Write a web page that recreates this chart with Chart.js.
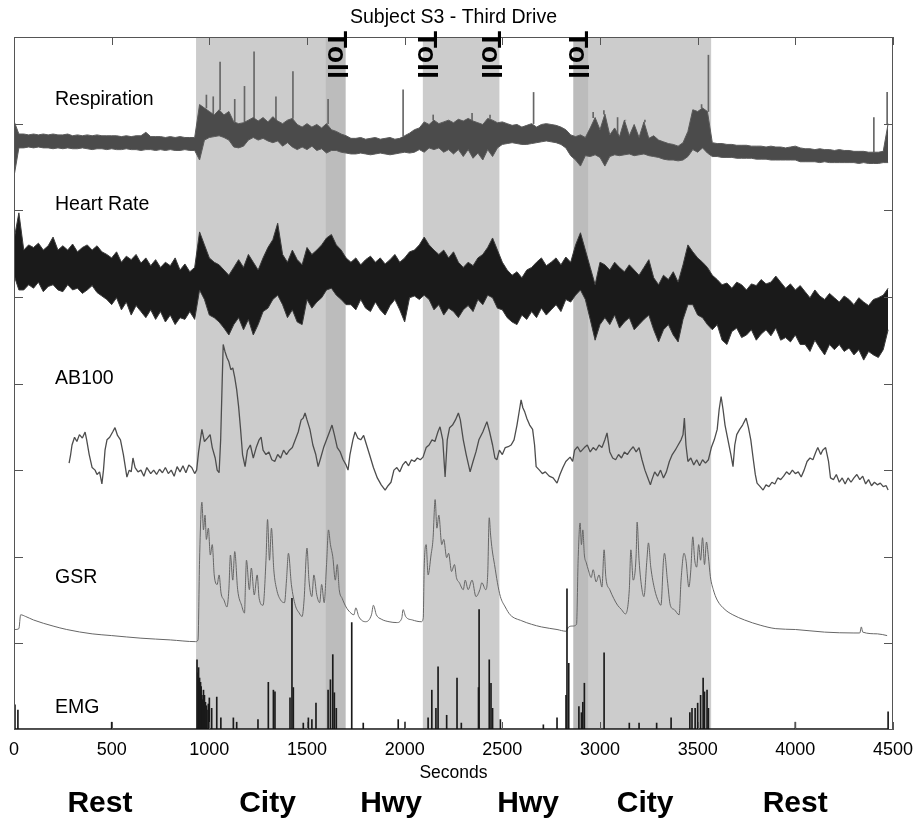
<!DOCTYPE html>
<html>
<head>
<meta charset="utf-8">
<title>Subject S3 - Third Drive</title>
<script src="https://cdn.jsdelivr.net/npm/chart.js@4.4.0/dist/chart.umd.min.js"></script>
<style>
body { margin: 0; background: #fff; }
</style>
</head>
<body>
<canvas id="drive" width="920" height="820"></canvas>
<script>
//采样间隔（秒），呼吸和心率的上下包络按此间隔取值
var sampleStep = 25;

//路段划分（秒）
var citySpans = [[932, 1697], [2093, 2485], [2864, 3569]];
var tollSpans = [[1596, 1697], [2864, 2939]];
var tollMarks = [1649, 2109, 2437, 2883];
var phaseNames = ['Rest', 'City', 'Hwy', 'Hwy', 'City', 'Rest'];
var phaseCenters = [440, 1298, 1930, 2632, 3231, 3999];

//坐标刻度
var secondTicks = [0, 500, 1000, 1500, 2000, 2500, 3000, 3500, 4000, 4500];
var levelTicks = [100, 200, 300, 400, 500, 600, 700];

//呼吸信号上包络
var respHi = [
    703, 688, 688, 687, 688, 687, 688, 687, 688, 687,
    687, 688, 686, 687, 686, 687, 686, 687, 686, 686,
    686, 686, 685, 686, 685, 686, 686, 690, 685, 685,
    685, 684, 685, 684, 685, 684, 684, 684, 722, 718,
    714, 710, 716, 710, 714, 702, 700, 701, 704, 707,
    703, 707, 702, 708, 703, 700, 704, 706, 699, 696,
    700, 696, 699, 695, 700, 693, 691, 688, 686, 683,
    683, 684, 682, 683, 684, 682, 683, 684, 682, 683,
    686, 689, 693, 695, 702, 699, 704, 700, 702, 704,
    701, 705, 703, 706, 703, 701, 699, 706, 704, 701,
    702, 700, 698, 699, 696, 698, 700, 696, 699, 700,
    699, 698, 696, 693, 687, 685, 687, 684, 695, 707,
    693, 711, 687, 695, 685, 704, 686, 699, 684, 702,
    683, 686, 681, 679, 677, 676, 674, 678, 691, 716,
    714, 718, 714, 678, 677, 677, 676, 676, 675, 675,
    675, 674, 674, 674, 673, 674, 673, 673, 672, 673,
    674, 672, 671, 671, 670, 671, 670, 670, 669, 670,
    669, 669, 668, 668, 668, 667, 667, 667, 668, 700
];

//呼吸信号下包络
var respLo = [
    639, 672, 672, 673, 672, 673, 672, 672, 671, 672,
    671, 672, 671, 671, 672, 671, 670, 671, 671, 670,
    671, 670, 670, 671, 670, 670, 669, 670, 670, 669,
    670, 669, 670, 669, 669, 670, 669, 669, 658, 681,
    684, 685, 686, 684, 681, 673, 672, 674, 681, 684,
    681, 683, 680, 678, 680, 674, 678, 673, 670, 673,
    670, 674, 669, 671, 666, 669, 669, 667, 666, 665,
    665, 666, 665, 664, 665, 666, 665, 664, 665, 666,
    667, 666, 667, 670, 667, 672, 670, 672, 667, 670,
    665, 670, 662, 670, 660, 666, 658, 670, 662, 672,
    676, 677, 678, 677, 676, 676, 677, 678, 679, 680,
    679, 678, 676, 672, 663, 658, 651, 663, 662, 664,
    661, 651, 662, 664, 663, 664, 665, 663, 664, 665,
    663, 662, 661, 659, 658, 658, 657, 658, 662, 670,
    667, 672, 666, 662, 662, 661, 661, 661, 660, 660,
    660, 660, 659, 659, 659, 658, 658, 658, 658, 658,
    658, 656, 656, 656, 656, 655, 656, 655, 655, 655,
    655, 655, 655, 654, 655, 654, 654, 654, 655, 655
];

//呼吸尖峰 [秒, 峰值]
var respSpikes = [
    [985, 733], [1020, 731], [1055, 771], [1130, 728], [1180, 743], [1229, 783], [1341, 731],
    [1428, 760], [1608, 728], [1992, 739], [2146, 710], [2345, 712], [2437, 710], [2660, 736],
    [2965, 713], [3020, 715], [3090, 707], [3130, 704], [3230, 704], [3520, 722], [3555, 779],
    [4402, 707], [4470, 736]
];

//心率上包络
var hrHi = [
    566, 597, 554, 560, 557, 562, 554, 559, 569, 554,
    559, 554, 561, 552, 557, 560, 554, 559, 552, 549,
    545, 552, 540, 547, 543, 549, 539, 545, 536, 543,
    534, 540, 536, 545, 531, 538, 529, 534, 575, 560,
    545, 540, 537, 531, 525, 534, 543, 534, 549, 540,
    531, 545, 557, 566, 585, 549, 540, 554, 543, 537,
    557, 549, 554, 560, 568, 572, 560, 554, 545, 540,
    545, 537, 543, 547, 540, 545, 538, 543, 549, 540,
    545, 552, 554, 560, 569, 560, 554, 549, 554, 545,
    552, 540, 534, 540, 536, 545, 549, 557, 568, 554,
    540, 531, 525, 529, 522, 531, 534, 540, 545, 536,
    540, 545, 537, 546, 540, 560, 574, 554, 534, 514,
    540, 537, 531, 540, 534, 529, 537, 531, 525, 534,
    543, 522, 514, 525, 520, 529, 517, 537, 560, 552,
    545, 540, 534, 525, 520, 514, 516, 510, 517, 514,
    508, 515, 513, 520, 515, 517, 524, 517, 510, 515,
    508, 513, 506, 499, 508, 501, 497, 504, 499, 494,
    501, 497, 491, 499, 494, 490, 497, 499, 502, 510
];

//心率下包络
var hrLo = [
    525, 508, 508, 514, 510, 517, 506, 512, 514, 508,
    506, 514, 508, 510, 504, 508, 513, 505, 501, 497,
    491, 499, 485, 494, 479, 490, 483, 476, 485, 474,
    483, 471, 479, 468, 476, 474, 483, 474, 508, 497,
    479, 476, 471, 464, 456, 468, 476, 462, 474, 456,
    468, 483, 487, 497, 502, 491, 476, 485, 471, 468,
    497, 487, 494, 499, 508, 510, 502, 497, 491, 491,
    485, 497, 487, 483, 494, 485, 479, 490, 497, 485,
    471, 499, 501, 497, 502, 497, 485, 491, 479, 487,
    483, 476, 485, 490, 483, 497, 491, 502, 499, 487,
    485, 476, 471, 468, 479, 474, 483, 476, 487, 479,
    485, 491, 483, 497, 494, 502, 508, 497, 474, 450,
    468, 476, 468, 479, 464, 471, 476, 462, 468, 474,
    479, 462, 448, 462, 468, 456, 448, 474, 491, 491,
    479, 476, 468, 462, 468, 450, 445, 460, 464, 453,
    456, 462, 450, 457, 462, 455, 464, 450, 453, 448,
    456, 445, 445, 437, 450, 441, 433, 445, 439, 445,
    437, 441, 433, 439, 427, 437, 433, 430, 439, 462
];

//AB100 [秒, 值]
var ab100Points = [
    [282, 308], [290, 318], [297, 329], [310, 338], [322, 333], [335, 341], [350, 337], [364, 344], [372, 335], [385, 318],
    [400, 303], [415, 300], [425, 295], [438, 298], [450, 284], [458, 300], [466, 323], [476, 335], [490, 338], [505, 344],
    [517, 349], [530, 340], [545, 335], [560, 318], [578, 292], [590, 300], [600, 298], [609, 314], [620, 303], [635, 298],
    [650, 300], [665, 293], [680, 303], [700, 296], [715, 300], [730, 295], [745, 301], [760, 297], [775, 303], [790, 296],
    [805, 300], [820, 293], [835, 304], [850, 298], [865, 305], [880, 297], [895, 306], [910, 303], [925, 296], [935, 300],
    [945, 321], [962, 347], [975, 333], [990, 337], [1004, 341], [1015, 326], [1030, 314], [1040, 300], [1050, 297], [1058, 335],
    [1066, 404], [1071, 445], [1080, 437], [1090, 430], [1100, 425], [1110, 416], [1120, 418], [1130, 407], [1140, 393], [1150, 373],
    [1160, 347], [1170, 318], [1183, 304], [1195, 323], [1210, 329], [1225, 314], [1240, 326], [1255, 335], [1265, 338], [1275, 323],
    [1290, 318], [1305, 321], [1320, 312], [1335, 310], [1350, 318], [1365, 314], [1380, 323], [1395, 318], [1410, 323], [1425, 326],
    [1440, 335], [1455, 344], [1470, 358], [1480, 360], [1490, 366], [1500, 358], [1515, 347], [1530, 329], [1545, 318], [1557, 304],
    [1570, 314], [1585, 326], [1600, 335], [1615, 344], [1628, 352], [1640, 341], [1655, 326], [1670, 321], [1685, 312], [1700, 306],
    [1710, 300], [1720, 318], [1735, 335], [1746, 344], [1760, 337], [1775, 335], [1790, 340], [1805, 329], [1820, 318], [1840, 303],
    [1860, 291], [1880, 283], [1900, 277], [1915, 282], [1930, 286], [1945, 300], [1960, 303], [1975, 298], [1990, 306], [2005, 310],
    [2020, 305], [2035, 312], [2050, 310], [2065, 314], [2080, 312], [2094, 315], [2110, 326], [2125, 329], [2140, 335], [2155, 333],
    [2170, 344], [2181, 350], [2195, 335], [2207, 292], [2218, 335], [2230, 349], [2245, 352], [2260, 358], [2275, 366], [2285, 358],
    [2300, 335], [2315, 318], [2335, 298], [2350, 310], [2365, 321], [2380, 335], [2400, 344], [2421, 356], [2435, 344], [2450, 329],
    [2462, 314], [2472, 312], [2485, 323], [2500, 318], [2515, 326], [2530, 327], [2545, 329], [2560, 335], [2575, 352], [2588, 370],
    [2596, 381], [2605, 372], [2615, 367], [2625, 360], [2640, 352], [2655, 347], [2665, 329], [2673, 304], [2690, 300], [2705, 296],
    [2720, 298], [2740, 293], [2760, 291], [2780, 285], [2795, 295], [2810, 303], [2825, 310], [2847, 315], [2860, 310], [2870, 323],
    [2885, 327], [2900, 321], [2920, 326], [2935, 329], [2950, 321], [2965, 326], [2980, 323], [2995, 329], [3010, 326], [3025, 335],
    [3036, 343], [3050, 321], [3065, 314], [3080, 312], [3095, 318], [3110, 314], [3125, 321], [3140, 318], [3155, 323], [3170, 327],
    [3185, 321], [3200, 326], [3215, 312], [3230, 300], [3245, 291], [3258, 283], [3266, 289], [3280, 298], [3295, 293], [3310, 300],
    [3325, 291], [3340, 298], [3355, 310], [3370, 318], [3385, 323], [3400, 329], [3415, 335], [3425, 341], [3432, 360], [3440, 329],
    [3450, 310], [3465, 314], [3480, 306], [3495, 312], [3510, 305], [3525, 312], [3540, 308], [3555, 312], [3570, 326], [3585, 335],
    [3600, 347], [3610, 370], [3620, 385], [3630, 370], [3640, 352], [3655, 335], [3670, 318], [3681, 304], [3690, 329], [3700, 341],
    [3715, 347], [3730, 352], [3748, 360], [3760, 349], [3772, 335], [3785, 312], [3795, 295], [3804, 285], [3820, 281], [3835, 277],
    [3850, 283], [3865, 281], [3880, 286], [3895, 284], [3910, 291], [3925, 289], [3940, 293], [3955, 298], [3970, 295], [3985, 300],
    [4000, 296], [4015, 298], [4030, 292], [4045, 300], [4060, 310], [4075, 314], [4090, 312], [4105, 321], [4115, 326], [4130, 318],
    [4140, 323], [4155, 326], [4170, 310], [4180, 291], [4195, 289], [4210, 295], [4225, 286], [4240, 291], [4255, 284], [4270, 291],
    [4285, 286], [4300, 291], [4315, 295], [4330, 289], [4345, 293], [4360, 284], [4375, 289], [4390, 282], [4405, 286], [4420, 283],
    [4435, 285], [4450, 281], [4465, 282], [4475, 277]
];

//皮电 GSR [秒, 值]
var gsrPoints = [
    [5, 116], [25, 117], [34, 133], [60, 131], [100, 127], [200, 120], [270, 116], [400, 111], [500, 109], [650, 106],
    [800, 104], [930, 102], [942, 104], [950, 196], [958, 254], [962, 263], [970, 231], [978, 248], [985, 220], [995, 233],
    [1005, 202], [1015, 214], [1025, 179], [1040, 168], [1050, 179], [1060, 158], [1075, 150], [1090, 142], [1100, 162], [1108, 202],
    [1120, 173], [1130, 206], [1145, 162], [1165, 144], [1180, 135], [1185, 168], [1190, 196], [1205, 162], [1215, 187], [1230, 156],
    [1245, 179], [1255, 152], [1275, 144], [1290, 196], [1298, 243], [1308, 196], [1318, 233], [1330, 185], [1345, 162], [1365, 150],
    [1385, 147], [1395, 173], [1405, 204], [1420, 168], [1440, 144], [1460, 135], [1475, 131], [1485, 150], [1500, 210], [1510, 173],
    [1525, 154], [1535, 179], [1550, 156], [1565, 147], [1575, 168], [1588, 147], [1600, 191], [1610, 231], [1620, 214], [1632, 200],
    [1645, 173], [1655, 191], [1665, 162], [1680, 152], [1700, 142], [1720, 136], [1740, 133], [1750, 141], [1765, 131], [1800, 125],
    [1830, 133], [1840, 144], [1855, 133], [1880, 128], [1920, 125], [1960, 124], [1985, 129], [1992, 139], [2005, 131], [2040, 127],
    [2085, 125], [2095, 129], [2100, 188], [2110, 214], [2120, 179], [2135, 202], [2145, 220], [2156, 266], [2165, 233], [2175, 248],
    [2190, 214], [2200, 220], [2215, 199], [2225, 204], [2240, 183], [2255, 191], [2265, 176], [2280, 170], [2300, 162], [2310, 173],
    [2325, 162], [2345, 173], [2365, 154], [2385, 162], [2395, 170], [2415, 162], [2425, 179], [2433, 245], [2440, 225], [2448, 208],
    [2460, 191], [2475, 170], [2490, 154], [2515, 142], [2540, 133], [2600, 126], [2650, 122], [2700, 119], [2780, 116], [2826, 114],
    [2840, 119], [2860, 120], [2880, 122], [2888, 196], [2898, 239], [2905, 214], [2912, 231], [2920, 202], [2930, 193], [2940, 185],
    [2955, 176], [2965, 185], [2980, 171], [2995, 179], [3010, 165], [3021, 208], [3030, 176], [3050, 162], [3070, 152], [3090, 144],
    [3110, 139], [3130, 134], [3150, 162], [3158, 208], [3170, 173], [3185, 202], [3190, 240], [3200, 196], [3215, 162], [3225, 154],
    [3240, 196], [3248, 216], [3260, 188], [3280, 162], [3300, 148], [3312, 144], [3325, 196], [3330, 204], [3345, 173], [3360, 144],
    [3380, 139], [3405, 133], [3415, 173], [3430, 204], [3440, 196], [3455, 165], [3465, 185], [3475, 223], [3485, 196], [3495, 188],
    [3505, 214], [3515, 196], [3525, 222], [3535, 191], [3545, 217], [3555, 200], [3565, 177], [3580, 162], [3600, 150], [3640, 139],
    [3680, 133], [3740, 127], [3820, 121], [3900, 117], [4000, 116], [4150, 113], [4300, 112], [4330, 112], [4338, 119], [4345, 113],
    [4420, 111], [4470, 109]
];

//肌电 EMG 基线与尖峰 [秒, 峰值]
var emgFloor = 1;
var emgRange = [0, 4475];
var emgPeaks = [
    [5, 29], [20, 23], [500, 9], [937, 81], [942, 66], [945, 72], [948, 46], [950, 60], [955, 55], [958, 50],
    [962, 40], [965, 35], [970, 46], [975, 40], [980, 32], [985, 28], [988, 23], [995, 30], [1000, 37], [1012, 25],
    [1038, 38], [1059, 14], [1123, 14], [1140, 9], [1249, 12], [1302, 55], [1328, 46], [1336, 44], [1413, 37], [1423, 152],
    [1430, 49], [1481, 8], [1507, 14], [1525, 12], [1546, 31], [1608, 46], [1620, 58], [1632, 87], [1640, 43], [1650, 25],
    [1729, 124], [1788, 8], [1967, 12], [2002, 9], [2120, 14], [2139, 46], [2160, 25], [2171, 73], [2215, 17], [2268, 60],
    [2290, 8], [2378, 49], [2381, 139], [2433, 81], [2442, 54], [2450, 25], [2490, 12], [2710, 6], [2780, 14], [2826, 40],
    [2831, 163], [2840, 77], [2892, 27], [2905, 20], [2912, 32], [2920, 54], [3021, 89], [3150, 8], [3200, 8], [3290, 8],
    [3364, 14], [3460, 20], [3471, 25], [3487, 25], [3500, 31], [3515, 40], [3528, 60], [3535, 44], [3548, 46], [3555, 25],
    [4000, 9], [4475, 21]
];

//等间隔序列转为点
function series(values) {
    return values.map(function(v, i) {
        return {x: i * sampleStep, y: v};
    });
}

//[秒, 值] 转为点
function points(list) {
    return list.map(function(p) {
        return {x: p[0], y: p[1]};
    });
}

//尖峰转为浮动柱
function spikeBars(list, baseOf) {
    return list.map(function(p) {
        return {x: p[0], y: [baseOf(p[0]), p[1]]};
    });
}

var fontFamily = '"Liberation Sans", Arial, Helvetica, sans-serif';

//底色、边框、刻度和文字
var drivePlugin = {
    id: 'drivePlugin',
    beforeDatasetsDraw: function(chart) {
        var ctx = chart.ctx, area = chart.chartArea, xs = chart.scales.x;
        ctx.save();
        ctx.fillStyle = '#cccccc';
        citySpans.forEach(function(s) {
            var a = xs.getPixelForValue(s[0]), b = xs.getPixelForValue(s[1]);
            ctx.fillRect(a, area.top, b - a, area.bottom - area.top);
        });
        ctx.fillStyle = '#bcbcbc';
        tollSpans.forEach(function(s) {
            var a = xs.getPixelForValue(s[0]), b = xs.getPixelForValue(s[1]);
            ctx.fillRect(a, area.top, b - a, area.bottom - area.top);
        });
        ctx.restore();
    },
    afterDraw: function(chart) {
        var ctx = chart.ctx, area = chart.chartArea;
        var xs = chart.scales.x, ys = chart.scales.y;
        var mid = (area.left + area.right) / 2;
        ctx.save();

        //边框和向内的刻度线
        ctx.strokeStyle = '#555';
        ctx.lineWidth = 1;
        ctx.strokeRect(area.left + 0.5, area.top + 0.5, area.right - area.left - 1, area.bottom - area.top - 1);
        ctx.beginPath();
        secondTicks.forEach(function(t) {
            var px = Math.round(xs.getPixelForValue(t)) + 0.5;
            ctx.moveTo(px, area.top);
            ctx.lineTo(px, area.top + 8);
            ctx.moveTo(px, area.bottom);
            ctx.lineTo(px, area.bottom - 8);
        });
        levelTicks.forEach(function(v) {
            var py = Math.round(ys.getPixelForValue(v)) + 0.5;
            ctx.moveTo(area.left, py);
            ctx.lineTo(area.left + 9, py);
            ctx.moveTo(area.right, py);
            ctx.lineTo(area.right - 9, py);
        });
        ctx.stroke();

        ctx.fillStyle = '#000';
        ctx.textAlign = 'center';
        ctx.textBaseline = 'alphabetic';

        //标题
        ctx.font = '19.5px ' + fontFamily;
        ctx.fillText('Subject S3 - Third Drive', mid, area.top - 14);

        //横轴刻度文字
        ctx.font = '18px ' + fontFamily;
        secondTicks.forEach(function(t) {
            ctx.fillText(String(t), xs.getPixelForValue(t), area.bottom + 25);
        });
        ctx.font = '17.5px ' + fontFamily;
        ctx.fillText('Seconds', mid, area.bottom + 48);

        //路段名称
        ctx.font = 'bold 30px ' + fontFamily;
        phaseNames.forEach(function(name, i) {
            ctx.fillText(name, xs.getPixelForValue(phaseCenters[i]), area.bottom + 82);
        });

        //通道名称
        var names = ['Respiration', 'Heart Rate', 'AB100', 'GSR', 'EMG'];
        var levels = [721, 600, 400, 170, 20];
        ctx.font = '19.5px ' + fontFamily;
        ctx.textAlign = 'left';
        names.forEach(function(name, i) {
            ctx.fillText(name, xs.getPixelForValue(210), ys.getPixelForValue(levels[i]));
        });

        //收费站标记，竖排
        ctx.font = 'bold 28px ' + fontFamily;
        ctx.textBaseline = 'middle';
        tollMarks.forEach(function(t) {
            ctx.save();
            ctx.translate(xs.getPixelForValue(t), area.top - 6);
            ctx.rotate(Math.PI / 2);
            ctx.fillText('Toll', 0, 0);
            ctx.restore();
        });
        ctx.restore();
    }
};

var respColor = '#4b4b4b';
var hrColor = '#1a1a1a';

new Chart(document.getElementById('drive'), {
    type: 'line',
    data: {
        datasets: [
            {
                label: 'Respiration low',
                data: series(respLo),
                borderColor: '#5a5a5a',
                borderWidth: 1,
                fill: false,
                order: 5
            },
            {
                label: 'Respiration',
                data: series(respHi),
                borderColor: '#5a5a5a',
                backgroundColor: respColor,
                borderWidth: 1,
                fill: '-1',
                order: 5
            },
            {
                type: 'bar',
                label: 'Respiration spikes',
                data: spikeBars(respSpikes, function(t) {
                    return respHi[Math.min(respHi.length - 1, Math.round(t / sampleStep))];
                }),
                backgroundColor: '#666',
                barThickness: 1,
                grouped: false,
                order: 5
            },
            {
                label: 'Heart Rate low',
                data: series(hrLo),
                borderColor: '#3a3a3a',
                borderWidth: 1,
                fill: false,
                order: 4
            },
            {
                label: 'Heart Rate',
                data: series(hrHi),
                borderColor: '#3a3a3a',
                backgroundColor: hrColor,
                borderWidth: 1,
                fill: '-1',
                order: 4
            },
            {
                label: 'AB100',
                data: points(ab100Points),
                borderColor: '#4d4d4d',
                borderWidth: 1.3,
                fill: false,
                order: 3
            },
            {
                label: 'GSR',
                data: points(gsrPoints),
                borderColor: '#666',
                borderWidth: 1,
                cubicInterpolationMode: 'monotone',
                fill: false,
                order: 2
            },
            {
                label: 'EMG floor',
                data: emgRange.map(function(t) { return {x: t, y: emgFloor}; }),
                borderColor: '#111',
                borderWidth: 2,
                fill: false,
                order: 1
            },
            {
                type: 'bar',
                label: 'EMG',
                data: spikeBars(emgPeaks, function() { return emgFloor; }),
                backgroundColor: '#1a1a1a',
                barThickness: 1,
                grouped: false,
                order: 1
            }
        ]
    },
    options: {
        responsive: false,
        animation: false,
        events: [],
        layout: {
            padding: {left: 14, top: 37, right: 27, bottom: 90}
        },
        elements: {
            point: {radius: 0},
            line: {borderJoinStyle: 'bevel'}
        },
        plugins: {
            legend: {display: false},
            title: {display: false},
            tooltip: {enabled: false}
        },
        scales: {
            x: {type: 'linear', min: 0, max: 4500, offset: false, display: false},
            y: {type: 'linear', min: 0, max: 800, display: false}
        }
    },
    plugins: [drivePlugin]
});
</script>
</body>
</html>
